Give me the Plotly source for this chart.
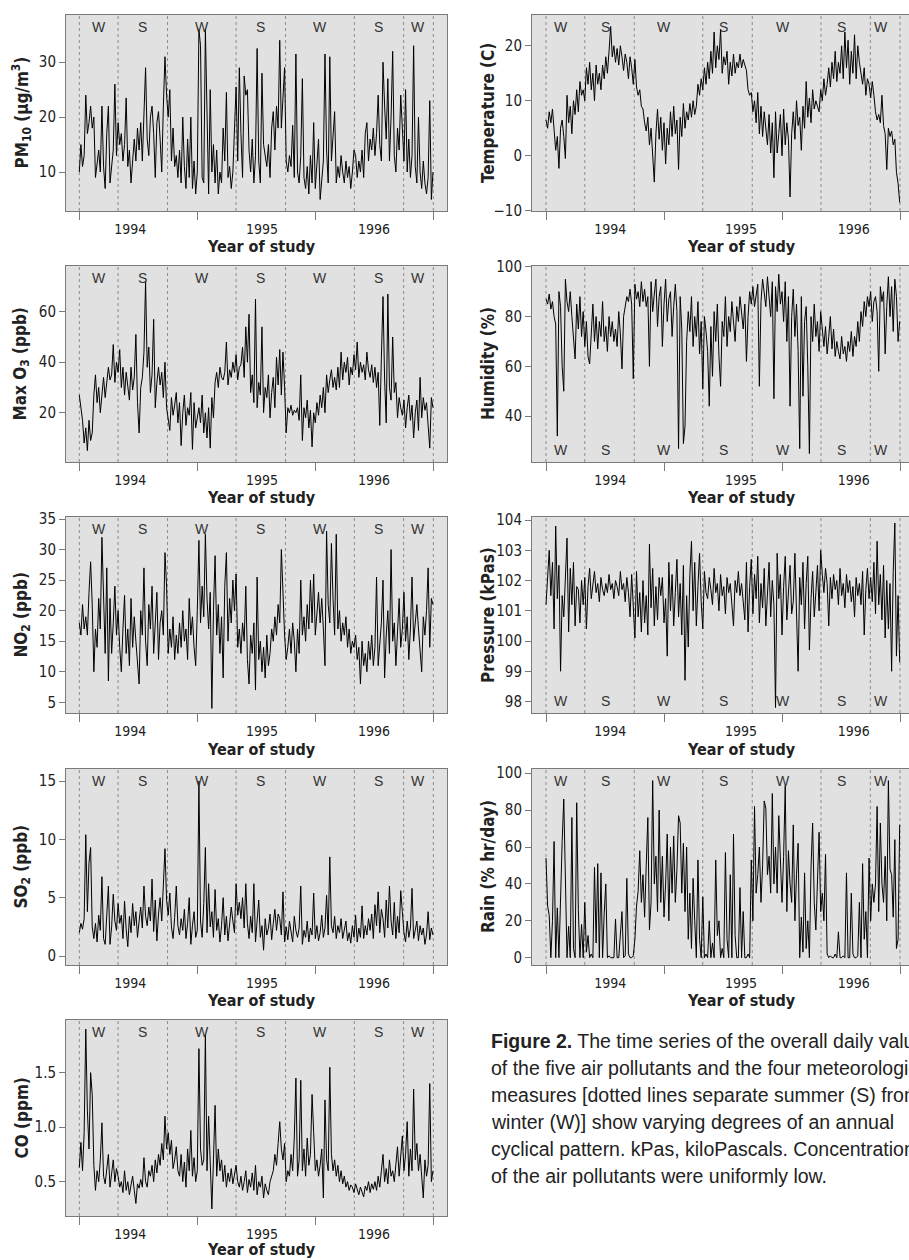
import numpy as np
import pandas as pd
import plotly.graph_objects as go

# ---------------- data (5-day samples, 1994-01-01 .. 1996-12-31) ----------------
dates = pd.date_range("1994-01-01", periods=220, freq="5D")

pm10 = [10, 15, 11, 13, 24, 17, 19, 22, 18, 20, 9, 12, 14, 10, 22, 11, 7, 17, 22, 8,
        11, 14, 26, 13, 19, 15, 17, 12, 15, 23.5, 11, 14, 8, 13, 16, 12, 18, 14, 19, 12,
        22, 29, 16, 13, 20, 22, 17, 9, 19, 21, 16, 10, 22, 31, 24, 20, 25, 12, 18, 11,
        13, 9, 14, 8, 20, 11, 7, 16, 9, 20, 7, 12, 6, 10, 36, 33, 9, 8, 36, 20,
        6, 25, 10, 15, 8, 14, 6, 10, 8, 18, 12, 24.5, 9, 11, 7, 10, 19, 25.5, 12, 29,
        17, 9, 27.5, 24, 25, 14, 10, 16, 8, 13, 32.5, 12, 8, 28, 15, 13, 11, 15, 9, 18,
        21, 14, 22, 18, 34, 18, 25, 29, 12, 10, 13, 11, 18.5, 9, 31.5, 10, 8, 13, 27, 9,
        7, 11, 6, 13, 8, 19, 7, 12, 16, 5, 9, 12, 31.5, 14, 8, 31, 12, 16, 21, 8,
        11, 9, 13, 10, 8, 12, 9, 11, 7, 10, 14, 13, 9, 12, 10, 14, 9, 17, 19, 12,
        16, 14, 18, 13, 17, 24, 15, 12, 30, 22, 16, 27, 12, 20, 32, 13, 10, 18, 14, 24,
        18, 12, 25, 10, 16, 9, 13, 33, 11, 8, 20, 10, 7, 12, 8, 6, 9, 23, 5, 10]

o3 = [27, 22, 17, 8, 14, 5, 17, 9, 12, 27, 35, 24, 30, 20, 28, 34, 26, 31, 38, 33,
      35, 47, 32, 40, 36, 45, 30, 38, 27, 36, 31, 25, 38, 29, 34, 51, 24, 12, 30, 34,
      44, 72, 38, 46, 28, 35, 57, 22, 32, 38, 31, 36, 26, 40, 22, 17, 13, 26, 19, 23,
      28, 16, 24, 7, 20, 27, 15, 22, 19, 28, 5.5, 24, 14, 18, 22, 16, 27, 12, 20, 10,
      22, 6, 26, 18, 32, 36, 30, 38, 34, 33, 36, 48, 31, 37, 34, 40, 36, 43, 33, 38,
      39, 46, 34, 54, 40, 59, 28, 35, 24, 65, 22, 32, 27, 54, 20, 30, 26, 35, 18, 28,
      34, 22, 42, 31, 45, 27, 44, 30, 12, 22, 20, 23, 19, 21, 20, 22, 17, 35, 9, 22,
      18, 25, 14, 21, 6.5, 20, 16, 24, 19, 27, 22, 30, 20, 35, 28, 33, 37, 30, 34, 29,
      38, 30, 44, 33, 40, 36, 42, 31, 38, 35, 43, 37, 48, 34, 40, 36, 39, 33, 44, 37,
      34, 39, 32, 38, 30, 36, 15, 42, 66, 33, 16, 67, 30, 25, 50, 28, 32, 18, 26, 22,
      19, 25, 14, 22, 27, 17, 23, 10, 20, 25, 13, 34, 18, 26, 21, 24, 14, 6, 26, 22]

no2 = [18, 16, 21, 17, 19, 16, 23, 28, 21, 10, 17, 14, 22, 17, 32, 21, 13, 27, 8.5, 22,
       13, 18, 24, 16, 20, 14, 10, 17, 22.5, 13, 17, 11, 22, 14, 19, 15, 11, 8, 20, 16,
       27, 15, 11, 21, 17, 24, 13, 19, 23, 12, 18, 20, 16, 29.5, 24, 13, 17, 14, 19, 12,
       16, 13, 18, 14, 20, 15, 17, 12, 22, 16, 19, 14, 11, 20, 31.5, 18, 24, 19, 32.5, 22,
       17, 23, 4, 20, 29, 16, 21, 13, 19, 9, 24, 29.5, 15, 22, 18, 25, 20, 26, 14, 17,
       13, 18, 15, 24, 12, 8, 16, 13, 18, 7, 25.5, 12, 15, 10, 14, 9, 16, 11, 13, 17,
       15, 19, 16, 21, 18, 30, 21, 16, 12, 14, 17, 13, 18, 15, 10, 17, 13, 25, 16, 19,
       15, 21, 17, 25, 18, 26, 16, 20, 23, 18, 22, 17, 11, 33, 21, 18, 31, 22, 16, 32.5,
       17, 20, 15, 18, 16, 19, 14, 17, 13, 15, 14, 16, 12, 14, 8, 15, 11, 13, 10, 15,
       12, 16, 11, 14, 25.5, 11, 15, 18, 25, 9, 16, 20, 13, 30, 15, 18, 11, 16, 22, 14,
       17, 23, 15, 19, 12, 17, 25.5, 15, 18, 21, 17, 14, 10, 19, 16, 20, 27, 14, 22, 21]

so2 = [2, 2.8, 2.3, 3.2, 10.4, 3.8, 8, 9.3, 2.5, 1.5, 2.8, 1.2, 3.5, 2.2, 6.8, 1.5, 1, 3.2, 6, 1,
       2.5, 5.3, 3, 2.2, 4.5, 2.8, 3.5, 1.5, 4.7, 2.3, 0.8, 3.4, 2, 4.5, 2.6, 3.8, 1.6, 3, 4.2, 2.4,
       6, 3.4, 2.6, 4.2, 3, 6.6, 2.1, 4.8, 1.3, 3.6, 5, 3, 7, 9.2, 4.8, 3.5, 5.4, 2.5, 1.5, 3.3,
       6, 2.6, 1.8, 3.2, 2.2, 4, 1.5, 2.8, 5, 1, 2.6, 3.8, 1.6, 2.2, 15, 3, 1.6, 4.5, 9.3, 2,
       6.2, 2.5, 3.8, 1.6, 5.7, 2.2, 3.2, 1.2, 2.6, 5, 1.8, 3.4, 1.3, 2.5, 4.2, 3, 2, 6.2, 3.5, 4.6,
       3.2, 5, 2.4, 6.2, 2.8, 1.5, 3.4, 2, 6.2, 1.2, 3, 4.8, 1.6, 2.6, 0.5, 3.2, 1.8, 2.4, 3.6, 1.4,
       2.8, 4, 2.2, 3.6, 3.2, 1.8, 5.5, 1.2, 2.5, 1.4, 3, 2, 1.2, 3.4, 2.2, 1.6, 2.4, 6, 1, 2.2,
       1.6, 3, 1.2, 2.4, 1.8, 5.4, 1.5, 2.6, 1.3, 2, 3.5, 1.6, 2.4, 5.2, 1.8, 8.5, 2.6, 2, 3.4, 1.5,
       2.6, 2, 3.2, 1.5, 2.4, 3, 1.3, 2, 1.1, 2.6, 1.6, 3.5, 1.2, 2.4, 1.6, 4.3, 1.5, 2.6, 1.8, 3.2,
       2.2, 3.6, 1.5, 4.4, 2.6, 5.5, 2, 4, 3.2, 1.6, 4.8, 2.4, 6, 3, 1.8, 4.6, 1.5, 3.4, 2, 5.6,
       3.8, 2, 1.2, 3, 1.6, 2.4, 5.8, 1.5, 2.2, 3, 1.3, 2.6, 1.8, 2.4, 1, 1.8, 3.8, 1.4, 2.4, 1.8]

co = [0.63, 0.86, 0.6, 0.95, 1.9, 1.15, 0.8, 1.5, 1.3, 0.65, 0.42, 0.6, 0.5, 0.7, 1.04, 0.55, 0.48, 0.62, 0.75, 0.45,
      0.58, 0.7, 0.5, 0.62, 0.55, 0.45, 0.5, 0.4, 0.6, 0.42, 0.5, 0.38, 0.47, 0.55, 0.42, 0.3, 0.48, 0.44, 0.52, 0.45,
      0.72, 0.5, 0.45, 0.6, 0.55, 0.65, 0.5, 0.7, 0.58, 0.75, 0.65, 0.85, 0.7, 1.1, 0.8, 0.95, 0.75, 0.88, 0.62, 0.7,
      0.82, 0.6, 0.55, 0.75, 0.5, 0.68, 0.45, 0.8, 0.6, 0.97, 0.55, 0.72, 0.5, 0.6, 1.72, 0.8, 0.65, 0.7, 1.85, 0.6,
      1.1, 0.75, 0.25, 0.7, 1.2, 0.55, 0.8, 0.6, 0.7, 0.5, 0.65, 0.45, 0.58, 0.5, 0.62, 0.48, 0.55, 0.65, 0.5, 0.45,
      0.55, 0.42, 0.5, 0.6, 0.4, 0.52, 0.45, 0.58, 0.42, 0.65, 0.38, 0.5, 0.45, 0.55, 0.35, 0.48, 0.42, 0.38, 0.5, 0.55,
      0.6, 0.75, 0.65, 0.85, 1.05, 0.8, 0.7, 0.85, 0.5, 0.6, 0.55, 0.75, 0.6, 0.9, 1.45, 0.55, 0.7, 1.43, 0.6, 0.8,
      0.55, 0.9, 0.65, 0.75, 1.3, 0.95, 0.6, 0.7, 0.55, 0.65, 0.8, 0.35, 1.25, 0.7, 0.6, 1.55, 0.75, 0.6, 0.7, 0.55,
      0.65, 0.5, 0.6, 0.48, 0.55, 0.45, 0.5, 0.42, 0.47, 0.45, 0.4, 0.48, 0.42, 0.38, 0.45, 0.4, 0.36, 0.46, 0.42, 0.5,
      0.4, 0.48, 0.43, 0.5, 0.42, 0.55, 0.45, 0.6, 0.75, 0.5, 0.62, 0.48, 0.7, 0.55, 0.6, 0.5, 0.65, 0.82, 0.55, 0.7,
      0.92, 0.6, 0.75, 1.05, 0.55, 0.8, 0.6, 1.35, 0.7, 0.85, 0.6, 0.75, 0.5, 0.35, 0.7, 0.55, 0.65, 1.4, 0.5, 0.6]

temp = [6.5, 5, 8, 6, 8.5, 4, 1, 3.5, -2.3, 5, 6.5, 3.5, -0.5, 11, 6, 9, 4, 10, 7.5, 12,
        8, 13.5, 11, 12, 10, 16, 13, 17, 12, 15, 10, 16.5, 13, 15, 12, 16.5, 14, 18, 15, 19,
        23.5, 18, 20, 17, 19.5, 16.5, 20, 18, 15.5, 18.5, 17, 14, 18, 16, 13, 17.5, 12.5, 11, 12, 9,
        8.5, 6, 4.5, 7, 2, 5, 0.5, -4.8, 4, 8.5, 3, 7, 1, 6, -1.5, 5, 2, 8, 3.5, 9,
        4, 6.5, -2.5, 7, 3.5, 9.5, 5, 8, 6.5, 9.5, 7, 10, 7.5, 9, 13, 11, 14, 12, 16, 13,
        17, 14, 19, 15, 22.5, 16, 20, 17.5, 23, 15, 18, 16.5, 19, 13, 17, 14.5, 18.5, 15, 17, 16,
        18.5, 16, 17.5, 16.5, 15.5, 12, 11, 11.5, 8, 10, 6, 11.5, 4, 9, 3.5, 8, 5, 2, 7.5, 0.5,
        6, -4, 8, 0.5, 4, 7.5, 0, 8.5, 2, 6, 3, -7.5, 4, 8, 3, 10, 5.5, 7, 1, 9,
        5, 13.5, 7, 10.5, 6, 12, 8.5, 10, 9, 8, 12, 10, 14, 11, 13, 16, 12.5, 17, 14, 19,
        13.5, 17, 15, 20, 14, 22.5, 16, 21, 13, 19, 15, 22, 14, 20, 17, 15, 13, 16, 11, 14,
        13, 10.5, 13.5, 11, 8, 6.5, 7.5, 6, 11, 5.5, 4, -2.5, 5, 3.5, 4.5, 2, 3, -3, -5, -8.5]

humidity = [87, 85, 89, 83, 86, 80, 77, 32, 90, 84, 60, 50, 95, 86, 82, 90, 80, 70, 63, 85,
            75, 88, 72, 82, 68, 78, 64, 61, 75, 85, 70, 80, 67, 78, 72, 86, 70, 76, 66, 80,
            72, 78, 70, 75, 68, 82, 73, 59, 80, 84, 88, 86, 91, 85, 55, 93, 87, 90, 84, 94,
            86, 91, 84, 88, 60, 94, 82, 89, 95, 76, 88, 92, 68, 85, 95, 78, 87, 90, 72, 84,
            93, 82, 27, 88, 75, 29, 36, 70, 82, 74, 88, 68, 80, 72, 86, 65, 78, 51, 80, 74,
            66, 44, 76, 56, 82, 70, 85, 64, 52, 78, 72, 88, 68, 80, 74, 86, 76, 70, 84, 78,
            88, 82, 75, 85, 62, 80, 90, 85, 92, 84, 88, 93, 52, 86, 95, 90, 84, 96, 88, 80,
            94, 47, 92, 82, 97, 85, 90, 78, 94, 70, 88, 44, 80, 91, 72, 85, 66, 27, 88, 48,
            78, 84, 60, 25, 80, 70, 85, 72, 78, 66, 82, 74, 68, 76, 65, 72, 80, 67, 75, 64,
            70, 66, 63, 72, 65, 68, 62, 70, 66, 74, 64, 72, 68, 78, 70, 82, 76, 86, 80, 88,
            84, 90, 78, 86, 88, 82, 58, 92, 86, 90, 65, 84, 96, 80, 92, 74, 95, 88, 70, 78]

pressure = [101.2, 102, 103, 101.5, 102.6, 100.4, 103.8, 101.4, 102.5, 99, 101.5, 100.8, 102.1, 103.4, 100.3, 102.4, 101.2, 102.6, 100.5, 101.8,
            101.7, 100.6, 102, 101.2, 102.1, 100.4, 101.8, 102.4, 101.4, 101.9, 102.3, 101.6, 101.9, 101.3, 102.1, 101.7, 101.5, 101.9, 101.6, 102.2,
            101.7, 101.9, 101.4, 102, 101.8, 101.5, 102.3, 101.7, 101.9, 101.3, 102.1, 101.6, 100.8, 102.2, 101.2, 100.1, 102.3, 100.8, 101.6, 100.3,
            102, 100.6, 101.5, 100.2, 103.2, 101.1, 102.4, 100.5, 101.8, 100.7, 102.1, 101.5, 102.1, 100.6, 101.4, 99.5, 102.6, 101, 102.2, 100.5,
            101.6, 102.7, 100.8, 101.9, 100.2, 102.5, 98.7, 101.5, 99.8, 102.2, 103.3, 101, 102.6, 100.5, 101.8, 102.9, 101.3, 100.4, 102.3, 101.6,
            101.4, 102.1, 101.7, 101.2, 102.4, 101.6, 101.9, 101, 102.2, 101.5, 101.8, 100.9, 102.1, 101.6, 101.9, 101.3, 100.5, 102, 101.6, 102.3,
            101.5, 101.9, 101.2, 100.7, 102.6, 100.3, 101.8, 102.7, 100.9, 102.2, 101.4, 102.8, 100.6, 101.9, 101.1, 102.4, 100.5, 101.7, 102.6, 100.8,
            102, 101.2, 97.8, 102.9, 101.4, 102.2, 100.2, 101.8, 102.8, 100.7, 101.6, 102.5, 100.9, 101.3, 102.9, 100.5, 99, 102.1, 101.2, 102.6,
            100.4, 101.9, 102.8, 99.7, 101.4, 102.3, 100.8, 101.6, 102.5, 101, 103, 102.2, 101.6, 102.4, 101.9, 100.5, 102.1, 101.4, 102.2, 101.7,
            102, 101.2, 102.4, 101.5, 101.9, 101.1, 102.2, 101.6, 102, 101.3, 101.8, 100.8, 102.1, 101.5, 101.9, 101.2, 102.3, 100.2, 101.7, 102.4,
            101.4, 102.1, 101.3, 102.6, 100.9, 103.3, 101.2, 102.2, 100.7, 102.5, 100.1, 102, 100.4, 101.9, 99, 102.3, 103.9, 99.5, 101.5, 99.3]

rain = [54, 28, 23, 0, 20, 63, 0, 27, 0, 40, 63, 86, 30, 0, 17, 0, 76, 5, 0, 84,
        26, 0, 18, 0, 30, 3, 12, 0, 2, 0, 49, 8, 51, 0, 46, 0, 24, 40, 0, 1,
        0, 0, 0, 21, 0, 0, 15, 25, 0, 1, 43, 2, 0, 0, 1, 10, 28, 36, 58, 30,
        45, 22, 50, 76, 15, 30, 96, 40, 55, 25, 80, 30, 55, 22, 40, 67, 20, 60, 35, 66,
        30, 48, 77, 73, 35, 62, 25, 60, 10, 35, 5, 43, 20, 0, 53, 10, 0, 33, 0, 2,
        0, 20, 0, 8, 0, 53, 12, 20, 0, 5, 0, 57, 10, 0, 45, 0, 67, 12, 0, 0,
        38, 0, 25, 0, 0, 2, 0, 53, 20, 82, 35, 45, 60, 30, 50, 85, 81, 45, 55, 35,
        89, 40, 60, 35, 77, 50, 30, 55, 93, 25, 58, 40, 30, 72, 20, 45, 62, 0, 22, 3,
        46, 5, 20, 0, 49, 73, 30, 15, 45, 68, 25, 35, 20, 56, 2, 0, 1, 0, 0, 2,
        0, 14, 0, 0, 1, 0, 46, 0, 0, 35, 2, 0, 0, 1, 30, 0, 51, 10, 25, 0,
        54, 20, 40, 30, 40, 82, 25, 73, 40, 30, 55, 20, 96, 48, 45, 22, 64, 5, 10, 72]

season_bounds = ["1994-01-01", "1994-05-01", "1994-10-01", "1995-05-01",
                 "1995-10-01", "1996-05-01", "1996-10-01", "1997-01-01"]
season_names = ["W", "S", "W", "S", "W", "S", "W"]
year_labels = ["1994", "1995", "1996"]
year_ticks = [1994, 1995, 1996, 1997]

caption_lines = [
    "<b>Figure 2.</b> The time series of the overall daily values",
    "of the five air pollutants and the four meteorological",
    "measures [dotted lines separate summer (S) from",
    "winter (W)] show varying degrees of an annual",
    "cyclical pattern. kPas, kiloPascals. Concentrations",
    "of the air pollutants were uniformly low.",
]


def dec_year(d):
    d = pd.DatetimeIndex(d)
    days = np.where(d.is_leap_year, 366, 365)
    return np.asarray(d.year + (d.dayofyear - 1) / days, dtype=float)


x = dec_year(dates)
bounds = dec_year(season_bounds)

# ---------------- layout geometry ----------------
W, H = 909, 1260
PPY = 118.0
rows_px = [(15, 211), (266, 462), (517, 713), (769, 965), (1020, 1216)]
cols = {
    "L": dict(x0=66, x1=447, t0=79.3, lab=[1994.432, 1995.548, 1996.497],
              title_x=21.5, yos_x=261, shift=0.0, mirror_y=True),
    "R": dict(x0=532, x1=909, t0=546, lab=[1994.545, 1995.653, 1996.608],
              title_x=488, yos_x=741, shift=-0.035, mirror_y=False),
}

panels = [
    ("L", 0, "PM<sub>10</sub> (μg/m<sup>3</sup>)", pm10, [2.9, 38.6], [10, 20, 30], None, "top"),
    ("L", 1, "Max O<sub>3</sub> (ppb)", o3, [0.5, 78.1], [20, 40, 60], None, "top"),
    ("L", 2, "NO<sub>2</sub> (ppb)", no2, [3.25, 35.33], [5, 10, 15, 20, 25, 30, 35], None, "top"),
    ("L", 3, "SO<sub>2</sub> (ppb)", so2, [-0.77, 16.03], [0, 5, 10, 15], None, "top"),
    ("L", 4, "CO (ppm)", co, [0.185, 1.983], [0.5, 1.0, 1.5], ".1f", "top"),
    ("R", 0, "Temperature (C)", temp, [-10.05, 25.6], [-10, 0, 10, 20], None, "top"),
    ("R", 1, "Humidity (%)", humidity, [21.6, 100.3], [40, 60, 80, 100], None, "bottom"),
    ("R", 2, "Pressure (kPas)", pressure, [97.62, 104.1], [98, 99, 100, 101, 102, 103, 104], None, "bottom"),
    ("R", 3, "Rain (% hr/day)", rain, [-3.96, 102.3], [0, 20, 40, 60, 80, 100], None, "top"),
]

NARROW = "DejaVu Sans Condensed, Liberation Sans Narrow, Arial Narrow, sans-serif"
REG = "Liberation Sans, Arial, Helvetica, sans-serif"
AX = "#7a7a7a"
TXT = "#222222"

fig = go.Figure()
layout = {}
shapes = []
annotations = []

for k, (col, row, title, vals, yr, ytv, yfmt, spos) in enumerate(panels):
    c = cols[col]
    T, B = rows_px[row]
    n = k + 1
    xr = "x" if n == 1 else f"x{n}"
    yrf = "y" if n == 1 else f"y{n}"
    xa = "xaxis" if n == 1 else f"xaxis{n}"
    ya = "yaxis" if n == 1 else f"yaxis{n}"

    fig.add_trace(go.Scatter(x=x, y=vals, mode="lines", xaxis=xr, yaxis=yrf,
                             line=dict(color="#000000", width=1.0),
                             hoverinfo="skip", showlegend=False))

    xrange = [1994 - (c["t0"] - c["x0"]) / PPY, 1994 + (c["x1"] - c["t0"]) / PPY]
    layout[xa] = dict(
        domain=[c["x0"] / W, c["x1"] / W], range=xrange, anchor=yrf,
        tickmode="array", tickvals=c["lab"], ticktext=year_labels,
        ticks="outside", ticklen=5, tickcolor="rgba(0,0,0,0)",
        minor=dict(tickmode="array", tickvals=year_ticks, ticks="outside",
                   ticklen=8, tickcolor=AX, tickwidth=1, showgrid=False),
        showgrid=False, zeroline=False, showline=True, linecolor=AX, linewidth=1,
        mirror=True, automargin=False, fixedrange=True,
        tickfont=dict(family=NARROW, size=14, color=TXT),
    )
    yax = dict(
        domain=[1 - B / H, 1 - T / H], range=yr, anchor=xr,
        tickmode="array", tickvals=ytv, ticks="outside", ticklen=6,
        tickcolor=AX, tickwidth=1, showgrid=False, zeroline=False,
        showline=True, linecolor=AX, linewidth=1, mirror=c["mirror_y"],
        automargin=False, fixedrange=True,
        tickfont=dict(family=NARROW, size=15, color=TXT),
    )
    if yfmt:
        yax["tickformat"] = yfmt
    layout[ya] = yax

    for b in bounds:
        shapes.append(dict(type="line", xref=xr, yref=f"{yrf} domain",
                           x0=b, x1=b, y0=0, y1=1, layer="below",
                           line=dict(color="#8a8a8a", width=1, dash="dot")))
    for j, name in enumerate(season_names):
        mid = (bounds[j] + bounds[j + 1]) / 2 + c["shift"]
        annotations.append(dict(x=mid, xref=xr, y=0.94 if spos == "top" else 0.06,
                                yref=f"{yrf} domain", text=name, showarrow=False,
                                xanchor="center", yanchor="middle",
                                font=dict(family=REG, size=14, color="#333333")))
    annotations.append(dict(x=c["title_x"] / W, xref="paper", y=1 - (T + B) / 2 / H,
                            yref="paper", text=f"<b>{title}</b>", textangle=-90,
                            showarrow=False, xanchor="center", yanchor="middle",
                            font=dict(family=NARROW, size=17, color=TXT)))
    yos_off = 33 if row == 4 else 36
    annotations.append(dict(x=c["yos_x"] / W, xref="paper", y=1 - (B + yos_off) / H,
                            yref="paper", text="<b>Year of study</b>", showarrow=False,
                            xanchor="center", yanchor="middle",
                            font=dict(family=NARROW, size=16, color=TXT)))

cap_y0, cap_dy = 1041, 27
for i, line in enumerate(caption_lines):
    annotations.append(dict(x=489 / W, xref="paper", y=1 - (cap_y0 + i * cap_dy) / H,
                            yref="paper", text=line, showarrow=False,
                            xanchor="left", yanchor="middle",
                            font=dict(family=REG, size=19.5, color=TXT)))

fig.update_layout(
    width=W, height=H, margin=dict(l=0, r=0, t=0, b=0),
    paper_bgcolor="white", plot_bgcolor="#e1e1e1",
    shapes=shapes, annotations=annotations, showlegend=False,
    **layout,
)

fig.write_html("out.html", config={"displayModeBar": False},
               post_script="document.body.style.margin='0';document.body.style.overflow='hidden';")
